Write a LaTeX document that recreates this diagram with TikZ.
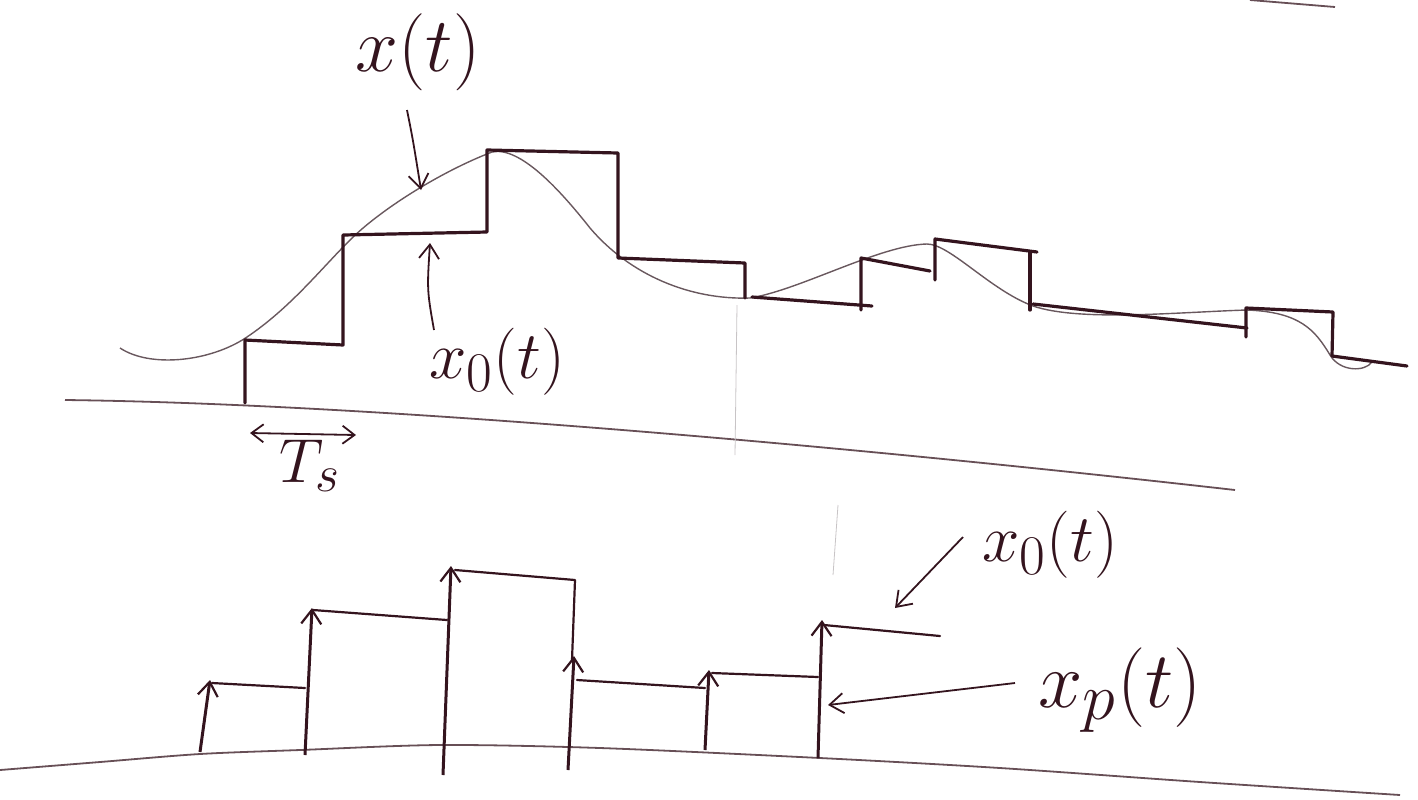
\documentclass[tikz,border=0pt]{standalone}
\usepackage{graphicx}
\usetikzlibrary{arrows.meta}
\definecolor{ink}{RGB}{52,20,30}
\definecolor{pencil}{RGB}{105,88,94}
\definecolor{faint}{RGB}{200,196,198}
\newcommand{\biglbl}[2]{\scalebox{#1}{\Huge #2}}
\begin{document}
\begin{tikzpicture}[x=0.5pt,y=-0.5pt,
  stair/.style={draw=ink, line width=1.6pt, line join=round, line cap=round},
  held/.style={draw=ink, line width=1.1pt, line join=round, line cap=round},
  curveline/.style={draw=pencil, line width=0.7pt},
  axisline/.style={draw=ink!75, line width=0.9pt},
  impulse/.style={draw=ink, line width=1.5pt, -{Straight Barb[length=7pt,width=10pt,line width=1.1pt]}},
  pointer/.style={draw=ink, line width=0.9pt, -{Straight Barb[length=7pt,width=10pt]}},
  lbl/.style={text=ink, inner sep=0pt}]
\useasboundingbox (0,0) rectangle (1418,799);

% stray line top right
\draw[axisline] (1250,0) -- (1335,7);

% top axis
\draw[axisline] (65,400) .. controls (400,404) and (900,452) .. (1235,490);

% faint vertical guide lines
\draw[faint, line width=0.4pt] (737,305) -- (735,455);
\draw[faint, line width=0.4pt] (838,505) -- (833,575);

% continuous signal x(t)
\draw[curveline] (120,348) .. controls (150,368) and (210,362) .. (247,337)
  .. controls (290,308) and (320,270) .. (350,240)
  .. controls (380,210) and (440,172) .. (492,152)
  .. controls (520,146) and (560,190) .. (590,228)
  .. controls (630,275) and (690,300) .. (750,298)
  .. controls (800,290) and (880,245) .. (927,244)
  .. controls (950,244) and (990,290) .. (1033,306)
  .. controls (1080,322) and (1180,312) .. (1247,310)
  .. controls (1300,312) and (1315,330) .. (1330,355)
  .. controls (1340,372) and (1365,372) .. (1372,362);

% zero-order hold staircase x0(t)
\draw[stair] (245,403) -- (245,340) -- (343,345) -- (343,235) -- (487,232) -- (487,150) -- (618,153) -- (618,258) -- (745,263) -- (745,298);
\draw[stair] (752,297) -- (872,306);
\draw[stair] (861,310) -- (861,258) -- (930,271);
\draw[stair] (935,280) -- (935,239) -- (1037,252);
\draw[stair] (1030,252) -- (1030,310);
\draw[stair] (1033,304) -- (1247,328);
\draw[stair] (1246,337) -- (1246,308) -- (1333,312) -- (1332,356) -- (1407,366);

% labels top
\node[lbl] (xt) at (418,52) {\biglbl{1.55}{$x(t)$}};
\coordinate (xtpt) at (421,190);
\draw[pointer] (407,110) .. controls (413,140) .. (xtpt);

\node[lbl] (xo) at (497,362) {\biglbl{1.35}{$x_0(t)$}};
\coordinate (xopt) at (430,243);
\coordinate (xostart) at (434,330);
\draw[pointer] (xostart) .. controls (427,290) .. (xopt);

% sampling interval
\coordinate (tsa) at (250,433);
\coordinate (tsb) at (356,435);
\draw[draw=ink, line width=0.9pt, {Straight Barb[length=6pt,width=9pt]}-{Straight Barb[length=6pt,width=9pt]}] (tsa) -- (tsb);
\node[lbl] (ts) at (310,466) {\biglbl{1.25}{$T_s$}};

% bottom axis
\draw[axisline] plot[smooth] coordinates {(0,770) (100,762) (200,754) (300,750) (440,745) (600,748) (820,758) (1000,768) (1200,782) (1400,795)};

% impulses x_p(t)
\coordinate (b1) at (200,752); \coordinate (t1) at (210,680);
\coordinate (b2) at (305,755); \coordinate (t2) at (312,608);
\coordinate (b3) at (443,775); \coordinate (t3) at (451,566);
\coordinate (b4) at (568,770); \coordinate (t4) at (574,656);
\coordinate (b5) at (705,750); \coordinate (t5) at (709,670);
\coordinate (b6) at (818,758); \coordinate (t6) at (822,620);
\foreach \i in {1,...,6} \draw[impulse] (b\i) -- (t\i);

% held values
\draw[held] (212,683) -- (305,688);
\draw[held] (313,610) -- (447,620);
\draw[held] (455,570) -- (575,580) -- (572,660);
\draw[held] (577,680) -- (705,688);
\draw[held] (712,673) -- (818,677);
\draw[held] (824,625) -- (940,636);

% labels bottom
\node[lbl] (xo2) at (1050,545) {\biglbl{1.35}{$x_0(t)$}};
\coordinate (xo2a) at (963,537);
\coordinate (xo2b) at (895,608);
\draw[pointer] (xo2a) -- (xo2b);

\node[lbl] (xp) at (1120,690) {\biglbl{1.6}{$x_p(t)$}};
\coordinate (xpa) at (1015,683);
\coordinate (xpb) at (828,705);
\draw[pointer] (xpa) -- (xpb);
\end{tikzpicture}
\end{document}
